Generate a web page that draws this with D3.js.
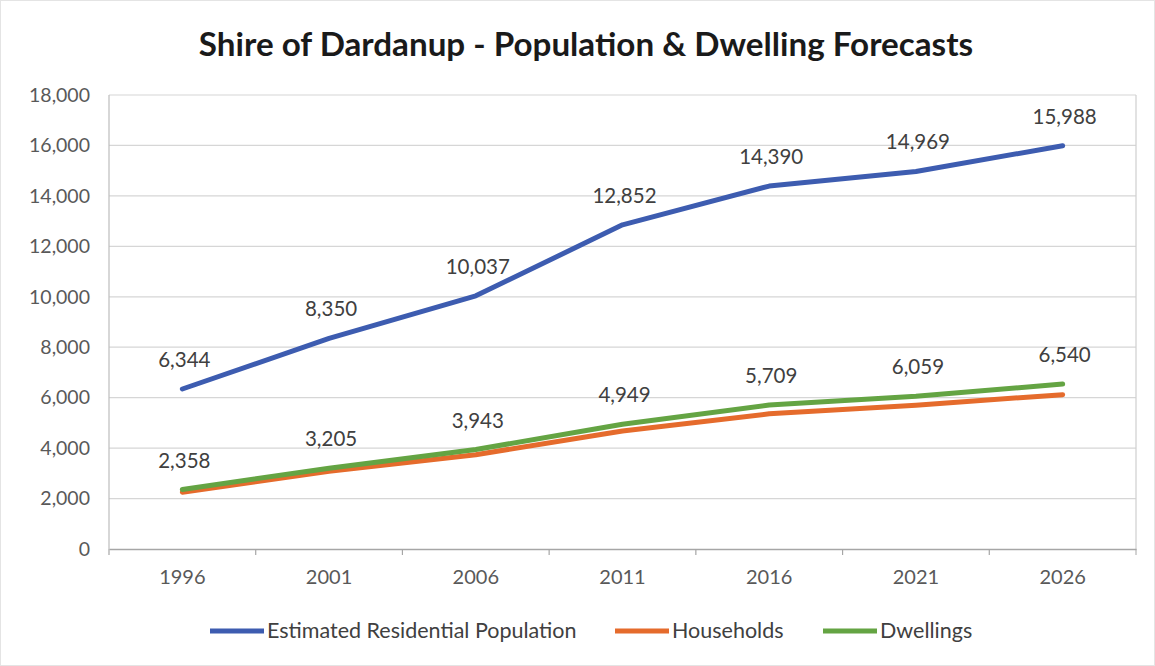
<!DOCTYPE html>
<html><head><meta charset="utf-8">
<script src="https://cdn.jsdelivr.net/npm/d3@7/dist/d3.min.js"></script>
<style>body{margin:0;background:#fff;}svg{display:block;}</style>
</head><body>
<script>
const years = ["1996","2001","2006","2011","2016","2021","2026"];
const population = [6344, 8350, 10037, 12852, 14390, 14969, 15988];
const households = [2250, 3080, 3740, 4680, 5360, 5700, 6120];
const dwellings = [2358, 3205, 3943, 4949, 5709, 6059, 6540];
const yTicks = [0, 2000, 4000, 6000, 8000, 10000, 12000, 14000, 16000, 18000];
const seriesNames = ["Estimated Residential Population", "Households", "Dwellings"];
const title = "Shire of Dardanup - Population & Dwelling Forecasts";

const W = 1155, H = 666;
const pL = 109, pR = 1136, pT = 95, pB = 549;
const font = "Lato, 'Open Sans', sans-serif";
const colors = ["#3d5cb0", "#e56b2c", "#64a443"];

const svg = d3.select("body").append("svg").attr("width", W).attr("height", H);
svg.append("rect").attr("x", 0.5).attr("y", 0.5).attr("width", W - 1).attr("height", H - 1)
  .attr("fill", "#fff").attr("stroke", "#e4e4e4");

const x = d3.scaleBand().domain(years).range([pL, pR]);
const y = d3.scaleLinear().domain([0, 18000]).range([pB, pT]);

// gridlines
svg.append("g").selectAll("line").data(yTicks.filter(d => d > 0)).join("line")
  .attr("x1", pL).attr("x2", pR)
  .attr("y1", d => y(d)).attr("y2", d => y(d))
  .attr("stroke", "#d6d6d6").attr("stroke-width", 1.2);

// plot border
svg.append("line").attr("x1", pL).attr("x2", pL).attr("y1", pT).attr("y2", pB).attr("stroke", "#bdbdbd").attr("stroke-width", 1.2);
svg.append("line").attr("x1", pR).attr("x2", pR).attr("y1", pT).attr("y2", pB).attr("stroke", "#cfcfcf").attr("stroke-width", 1.2);

// y axis labels
const yAxis = d3.axisLeft(y).tickValues(yTicks).tickSize(0).tickPadding(19).tickFormat(d3.format(","));
const ya = svg.append("g").attr("transform", `translate(${pL},0)`).call(yAxis);
ya.select(".domain").remove();
ya.selectAll("text").attr("font-family", font).attr("font-size", 19.5).attr("fill", "#595959");

// x axis
const xAxis = d3.axisBottom(x).tickSize(0).tickPadding(21);
const xa = svg.append("g").attr("transform", `translate(0,${pB})`).call(xAxis);
xa.select(".domain").attr("stroke", "#a6a6a6").attr("stroke-width", 1.4);
xa.selectAll("text").attr("font-family", font).attr("font-size", 20).attr("fill", "#595959");
// tick marks between categories
svg.append("g").selectAll("line").data(years).join("line")
  .attr("x1", d => x(d)).attr("x2", d => x(d))
  .attr("y1", pB).attr("y2", pB + 6)
  .attr("stroke", "#a6a6a6").attr("stroke-width", 1.2);
svg.append("line").attr("x1", pR).attr("x2", pR).attr("y1", pB).attr("y2", pB + 6).attr("stroke", "#a6a6a6");

const line = d3.line().x((d, i) => x(years[i]) + x.bandwidth() / 2).y(d => y(d));
const series = [population, households, dwellings];
series.forEach((s, k) => {
  svg.append("path").datum(s).attr("d", line).attr("fill", "none")
    .attr("stroke", colors[k]).attr("stroke-width", 5).attr("stroke-linecap", "round").attr("stroke-linejoin", "round");
});

// data labels
[population, dwellings].forEach(s => {
  svg.append("g").selectAll("text").data(s).join("text")
    .attr("x", (d, i) => x(years[i]) + x.bandwidth() / 2 + 2)
    .attr("y", d => y(d) - 22)
    .attr("text-anchor", "middle")
    .attr("font-family", font).attr("font-size", 20.5).attr("fill", "#404040")
    .text(d => d3.format(",")(d));
});

// title
svg.append("text").attr("x", 586).attr("y", 56).attr("text-anchor", "middle")
  .attr("font-family", font).attr("font-weight", "bold").attr("font-size", 33.2).attr("fill", "#1a1a1a")
  .text(title);

// legend
const legendItems = [
  { x: 210, name: seriesNames[0], c: colors[0] },
  { x: 615, name: seriesNames[1], c: colors[1] },
  { x: 823, name: seriesNames[2], c: colors[2] }
];
const lg = svg.append("g");
legendItems.forEach(it => {
  lg.append("line").attr("x1", it.x).attr("x2", it.x + 54).attr("y1", 631).attr("y2", 631)
    .attr("stroke", it.c).attr("stroke-width", 5);
  lg.append("text").attr("x", it.x + 57).attr("y", 638).attr("font-family", font).attr("font-size", 21.5)
    .attr("fill", "#404040").text(it.name);
});
</script>
</body></html>
